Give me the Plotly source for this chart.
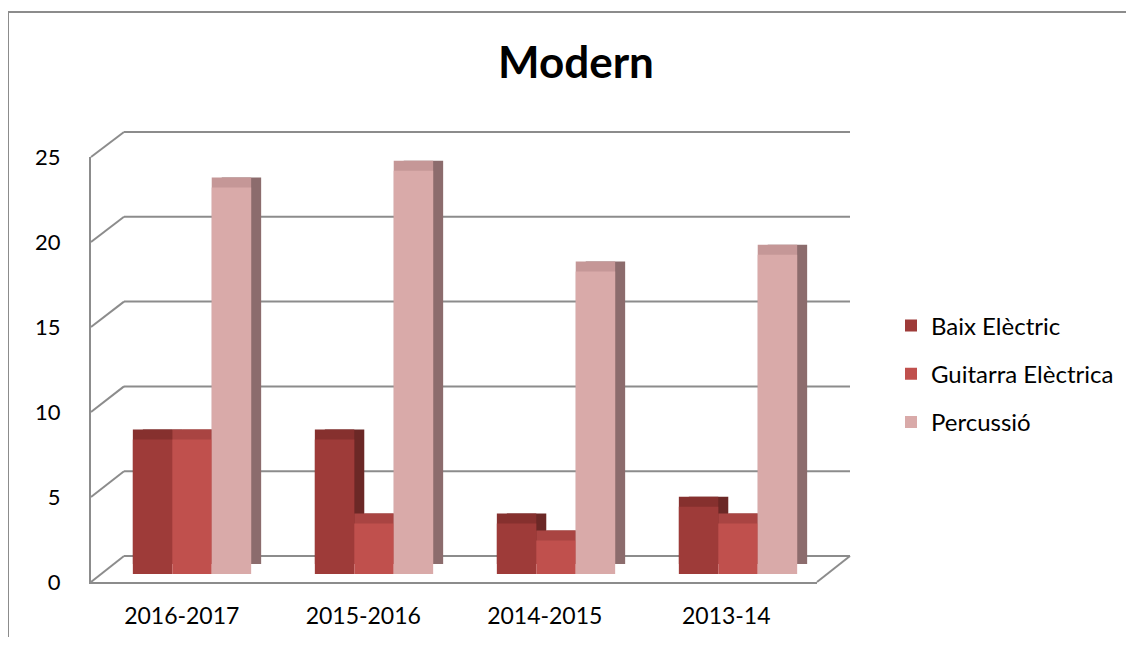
import plotly.graph_objects as go

# ---------------- data ----------------
categories = ["2016-2017", "2015-2016", "2014-2015", "2013-14"]
baix_electric = [8, 8, 3, 4]
guitarra_electrica = [8, 3, 2, 3]
percussio = [23, 24, 18, 19]
series_names = ["Baix Elèctric", "Guitarra Elèctrica", "Percussió"]
y_ticks = [0, 5, 10, 15, 20, 25]
title_text = "Modern"

series_values = [baix_electric, guitarra_electrica, percussio]
front_colors = ["#9E3B39", "#C0504D", "#D9AAA9"]
side_colors = ["#6B2826", "#8A3735", "#8C6C6D"]
top_colors = ["#86302E", "#A94442", "#C59797"]

# ---------------- geometry (page pixels) ----------------
PAGE_W, PAGE_H = 1134, 645
OX, OY = 8, 8                     # default body margin of the page
W, H = PAGE_W - 2 * OX, PAGE_H - 2 * OY
YMAX = 25
FRONT_X, BACK_X = 91, 124
FRONT_RX, BACK_RX = 817, 850
FRONT_Y0, FRONT_YT = 582, 157
BACK_Y0, BACK_YT = 556, 132
BAR_X0, BAR_X1 = 101, 829
BAR_Y0, BAR_YT = 574, 154
DX, DY = 10, 10
GRID = "#8C8C8C"
FONT = "Lato"


def fx(p):
    return (p - OX) / W


def fy(p):
    return 1 - (p - OY) / H


def front_py(v):
    return FRONT_Y0 + (FRONT_YT - FRONT_Y0) * v / YMAX


def back_py(v):
    return BACK_Y0 + (BACK_YT - BACK_Y0) * v / YMAX


fig = go.Figure()

# frame axis (labels) - invisible helper trace so categories render
fig.add_trace(go.Scatter(x=categories, y=[None] * len(categories), xaxis="x", yaxis="y",
                         showlegend=False, hoverinfo="skip", mode="markers"))

# side faces, top faces, front faces
layers = [("x2", "y2", side_colors, False), ("x3", "y3", top_colors, False), ("x4", "y4", front_colors, True)]
for xa, ya, cols, show in layers:
    for i, (name, vals) in enumerate(zip(series_names, series_values)):
        fig.add_trace(go.Bar(x=categories, y=vals, name=name, xaxis=xa, yaxis=ya,
                             marker=dict(color=cols[i], line=dict(width=0)),
                             showlegend=show, legendgroup=name))

shapes = []
line = dict(color=GRID, width=2)
# back wall gridlines and left-wall diagonals
for v in y_ticks:
    shapes.append(dict(type="line", xref="paper", yref="paper", layer="below",
                       x0=fx(BACK_X), x1=fx(BACK_RX), y0=fy(back_py(v)), y1=fy(back_py(v)), line=line))
    shapes.append(dict(type="line", xref="paper", yref="paper", layer="below",
                       x0=fx(FRONT_X), x1=fx(BACK_X), y0=fy(front_py(v)), y1=fy(back_py(v)), line=line))
# floor right diagonal
shapes.append(dict(type="line", xref="paper", yref="paper", layer="below",
                   x0=fx(FRONT_RX), x1=fx(BACK_RX), y0=fy(front_py(0)), y1=fy(back_py(0)), line=line))
# outer chart border (partly out of view)
shapes.append(dict(type="rect", xref="paper", yref="paper", layer="below",
                   x0=fx(8), x1=fx(PAGE_W + 30), y0=fy(12), y1=fy(PAGE_H + 30),
                   line=dict(color="#8C8C8C", width=2)))

cat_axis = dict(type="category", categoryarray=categories, range=[-0.5, len(categories) - 0.5])


def hidden_x(dom_l, dom_r, anchor):
    return dict(cat_axis, domain=[fx(dom_l), fx(dom_r)], anchor=anchor, visible=False, fixedrange=True)


def hidden_y(dom_b, dom_t, anchor):
    return dict(range=[0, YMAX], domain=[fy(dom_b), fy(dom_t)], anchor=anchor, visible=False, fixedrange=True)


fig.update_layout(
    width=W, height=H,
    margin=dict(l=0, r=0, t=0, b=0, pad=0, autoexpand=False),
    paper_bgcolor="white",
    plot_bgcolor="rgba(0,0,0,0)",
    font=dict(family=FONT, size=23, color="#000000"),
    barmode="group", bargap=0.35, bargroupgap=0,
    title=dict(text="<b>%s</b>" % title_text, x=fx(576), y=fy(63), xanchor="center", yanchor="middle",
               font=dict(family=FONT, size=44, color="#000000")),
    xaxis=dict(cat_axis, domain=[fx(FRONT_X), fx(FRONT_RX)], anchor="y", showline=True, linecolor=GRID,
               linewidth=2, showgrid=False, ticks="", ticklabelstandoff=12, automargin=False,
               tickfont=dict(size=23)),
    yaxis=dict(range=[0, YMAX], domain=[fy(FRONT_Y0), fy(FRONT_YT)], anchor="x", showline=True,
               linecolor=GRID, linewidth=2, showgrid=False, zeroline=False, tickvals=y_ticks,
               ticks="", ticklabelstandoff=24, automargin=False, tickfont=dict(size=22)),
    xaxis2=hidden_x(BAR_X0 + DX, BAR_X1 + DX, "y2"),
    yaxis2=hidden_y(BAR_Y0 - DY, BAR_YT - DY, "x2"),
    xaxis3=hidden_x(BAR_X0, BAR_X1, "y3"),
    yaxis3=hidden_y(BAR_Y0 - DY, BAR_YT - DY, "x3"),
    xaxis4=hidden_x(BAR_X0, BAR_X1, "y4"),
    yaxis4=hidden_y(BAR_Y0, BAR_YT, "x4"),
    legend=dict(x=fx(891), y=fy(374), xanchor="left", yanchor="middle", traceorder="grouped",
                tracegroupgap=14, font=dict(family=FONT, size=24), bgcolor="rgba(0,0,0,0)",
                itemwidth=30),
    shapes=shapes,
    showlegend=True,
)

fig.write_html("out.html")
